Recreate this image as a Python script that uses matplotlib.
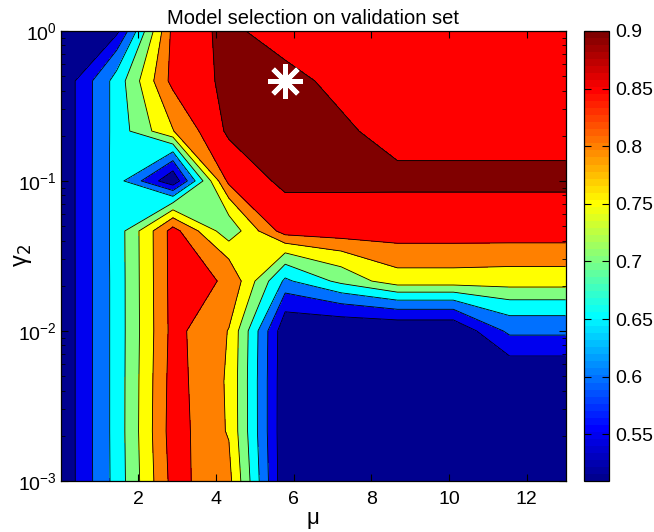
import numpy as np
import matplotlib
matplotlib.use("Agg")
import matplotlib.pyplot as plt
from matplotlib.colors import ListedColormap, Normalize
from matplotlib.cm import ScalarMappable

plt.rcParams['font.family'] = ['Liberation Sans', 'DejaVu Sans']
plt.rcParams['mathtext.fontset'] = 'dejavusans'

# grid of the model selection search
mu = [0.0, 1.44, 2.89, 4.33, 5.78, 7.22, 8.67, 10.11, 11.56, 13.0]
gamma2 = [1e-3, 2.15e-3, 4.64e-3, 1e-2, 2.15e-2, 4.64e-2, 0.1, 0.215, 0.464, 1.0]

# validation accuracy, one row per gamma2 value (bottom to top)
acc = [
    [0.508, 0.669, 0.867, 0.815, 0.509, 0.510, 0.510, 0.510, 0.510, 0.510],
    [0.508, 0.670, 0.875, 0.795, 0.509, 0.510, 0.510, 0.510, 0.510, 0.510],
    [0.508, 0.670, 0.872, 0.793, 0.510, 0.510, 0.510, 0.510, 0.508, 0.508],
    [0.508, 0.670, 0.867, 0.798, 0.512, 0.506, 0.506, 0.506, 0.612, 0.612],
    [0.508, 0.670, 0.869, 0.845, 0.640, 0.714, 0.780, 0.780, 0.777, 0.777],
    [0.508, 0.671, 0.870, 0.715, 0.875, 0.884, 0.883, 0.883, 0.883, 0.883],
    [0.508, 0.671, 0.508, 0.865, 0.911, 0.907, 0.907, 0.907, 0.907, 0.907],
    [0.508, 0.670, 0.798, 0.910, 0.912, 0.907, 0.885, 0.885, 0.885, 0.885],
    [0.508, 0.670, 0.867, 0.911, 0.917, 0.885, 0.880, 0.880, 0.880, 0.880],
    [0.508, 0.535, 0.865, 0.915, 0.865, 0.880, 0.880, 0.880, 0.880, 0.880],
]

levels = [0.55, 0.60, 0.65, 0.70, 0.75, 0.80, 0.85, 0.90]
cbar_ticks = [0.55, 0.6, 0.65, 0.7, 0.75, 0.8, 0.85, 0.9]
best_mu = 5.78
best_gamma2 = 0.464
cmin, cmax = 0.5096, 0.9


def matlab_jet(m=64):
    n = int(np.ceil(m / 4))
    u = np.concatenate([np.arange(1, n + 1) / n, np.ones(n - 1),
                        np.arange(n, 0, -1) / n])
    g = int(np.ceil(n / 2)) - (1 if m % 4 == 1 else 0) + np.arange(1, len(u) + 1)
    r = g + n
    b = g - n
    J = np.zeros((m, 3))
    for idx, ch in ((r, 0), (g, 1), (b, 2)):
        ok = (idx >= 1) & (idx <= m)
        J[idx[ok] - 1, ch] = u[ok]
    return J


def main():
    jet = matlab_jet(64)
    # fill colour of each band = colour of its lower level (MATLAB style)
    lows = [cmin] + levels
    band_colors = []
    for v in lows:
        k = int((v - cmin) / (cmax - cmin) * 64)
        band_colors.append(jet[min(max(k, 0), 63)])

    Z = np.array(acc)
    fig = plt.figure(figsize=(6.54, 5.32), dpi=100)
    ax = fig.add_axes([0.0928, 0.0959, 0.772, 0.846])

    fill_levels = [0.0] + levels + [1.0]
    ax.contourf(mu, gamma2, Z, levels=fill_levels, colors=band_colors)
    ax.contour(mu, gamma2, Z, levels=levels, colors='k', linewidths=0.6)
    ax.plot(best_mu, best_gamma2, linestyle='none', marker=(8, 2, 0),
            markersize=25, markeredgewidth=3.5, color='white')

    ax.set_yscale('log')
    ax.set_xlim(0, 13)
    ax.set_ylim(1e-3, 1)
    ax.set_xticks([2, 4, 6, 8, 10, 12])
    ax.tick_params(which='both', direction='in', top=True, right=True,
                   labelsize=14)
    ax.tick_params(which='major', length=5)
    ax.tick_params(axis='x', which='major', pad=7)
    ax.tick_params(axis='y', which='major', pad=3)
    ax.tick_params(which='minor', length=3)
    for s in ax.spines.values():
        s.set_linewidth(0.9)

    ax.set_title('Model selection on validation set', fontsize=14.5, pad=5)
    ax.set_xlabel('μ', fontsize=16, labelpad=0)
    ax.set_ylabel('γ$_2$', fontsize=17)
    ax.yaxis.set_label_coords(-0.053, 0.5)

    cax = fig.add_axes([0.893, 0.0959, 0.0387, 0.846])
    sm = ScalarMappable(norm=Normalize(cmin, cmax), cmap=ListedColormap(jet))
    cb = fig.colorbar(sm, cax=cax, ticks=cbar_ticks)
    cb.ax.set_yticklabels(['%g' % t for t in cbar_ticks])
    cax.tick_params(direction='in', left=True, right=True, length=5,
                    labelsize=14, pad=4)
    cb.outline.set_linewidth(0.9)

    fig.savefig('out.png', dpi=100)


if __name__ == "__main__":
    main()
